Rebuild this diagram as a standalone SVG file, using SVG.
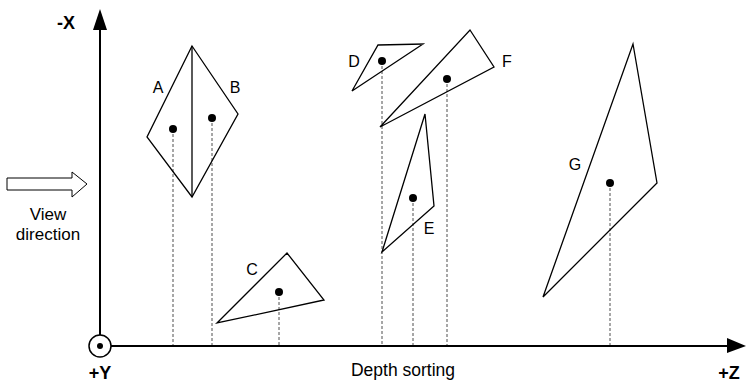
<svg xmlns="http://www.w3.org/2000/svg" width="746" height="385" viewBox="0 0 746 385">
<style>
  .poly{fill:none;stroke:#000;stroke-width:1.3;stroke-linejoin:miter}
  .dot{fill:#000}
  .proj{stroke:#222;stroke-width:0.8;stroke-dasharray:3,2;fill:none}
  .axis{stroke:#000;stroke-width:2;fill:none}
  .lbl{font-family:"Liberation Sans",Arial,sans-serif;font-size:16px;fill:#000;text-anchor:middle}
  .ax{font-family:"Liberation Sans",Arial,sans-serif;font-size:18px;font-weight:bold;fill:#000;text-anchor:middle}
  .cap{font-family:"Liberation Sans",Arial,sans-serif;font-size:17px;fill:#000;text-anchor:middle}
</style>
<rect width="746" height="385" fill="#fff"/>
<g id="connectors">
  <line class="axis" x1="100" y1="335" x2="100" y2="28"/>
  <path d="M93,30 L100,9 L107,30 Z" fill="#000"/>
  <line class="axis" x1="111" y1="346" x2="728" y2="346"/>
  <path d="M727,338 L746,346 L727,353 Z" fill="#000"/>
  <line class="proj" x1="173" y1="129" x2="173" y2="345"/>
  <line class="proj" x1="212" y1="118" x2="212" y2="345"/>
  <line class="proj" x1="279" y1="292" x2="279" y2="345"/>
  <line class="proj" x1="382" y1="61" x2="382" y2="345"/>
  <line class="proj" x1="413" y1="198" x2="413" y2="345"/>
  <line class="proj" x1="447" y1="79" x2="447" y2="345"/>
  <line class="proj" x1="610" y1="183" x2="610" y2="345"/>
</g>
<g id="origin">
  <circle cx="100" cy="346" r="11" fill="#fff" stroke="#000" stroke-width="1.5"/>
  <circle cx="100" cy="346" r="3" fill="#000"/>
</g>
<g id="axis-labels">
  <text class="ax" x="66" y="29">-X</text>
  <text class="ax" x="100" y="379">+Y</text>
  <text class="ax" x="729" y="379">+Z</text>
  <text class="cap" x="403" y="376" style="font-size:17.5px">Depth sorting</text>
</g>
<g id="view-direction">
  <path d="M7,178 L72,178 L72,172 L87,184 L72,197 L72,190 L7,190 Z" fill="#fff" stroke="#000" stroke-width="1"/>
  <text class="cap" x="48" y="220">View</text>
  <text class="cap" x="48" y="240">direction</text>
</g>
<g id="AB">
  <path class="poly" d="M192,46 L238,114 L192,197 L147,137 Z"/>
  <line class="poly" x1="192" y1="46" x2="192" y2="197" stroke-width="1"/>
  <circle class="dot" cx="173" cy="129" r="4"/>
  <circle class="dot" cx="212" cy="118" r="4"/>
  <text class="lbl" x="158" y="93">A</text>
  <text class="lbl" x="235" y="93">B</text>
</g>
<g id="C">
  <path class="poly" d="M217,323 L287,253 L324,300 Z"/>
  <circle class="dot" cx="279" cy="292" r="4"/>
  <text class="lbl" x="252" y="275">C</text>
</g>
<g id="D">
  <path class="poly" d="M378,45 L423,44 L352,91 Z"/>
  <circle class="dot" cx="382" cy="61" r="4"/>
  <text class="lbl" x="354" y="67">D</text>
</g>
<g id="F">
  <path class="poly" d="M470,30 L494,67 L380,127 Z"/>
  <circle class="dot" cx="447" cy="79" r="4"/>
  <text class="lbl" x="507" y="67">F</text>
</g>
<g id="E">
  <path class="poly" d="M425,114 L434,206 L382,252 Z"/>
  <circle class="dot" cx="413" cy="198" r="4"/>
  <text class="lbl" x="429" y="234">E</text>
</g>
<g id="G">
  <path class="poly" d="M633,44 L657,183 L543,297 Z"/>
  <circle class="dot" cx="610" cy="183" r="4"/>
  <text class="lbl" x="575" y="170">G</text>
</g>
</svg>
